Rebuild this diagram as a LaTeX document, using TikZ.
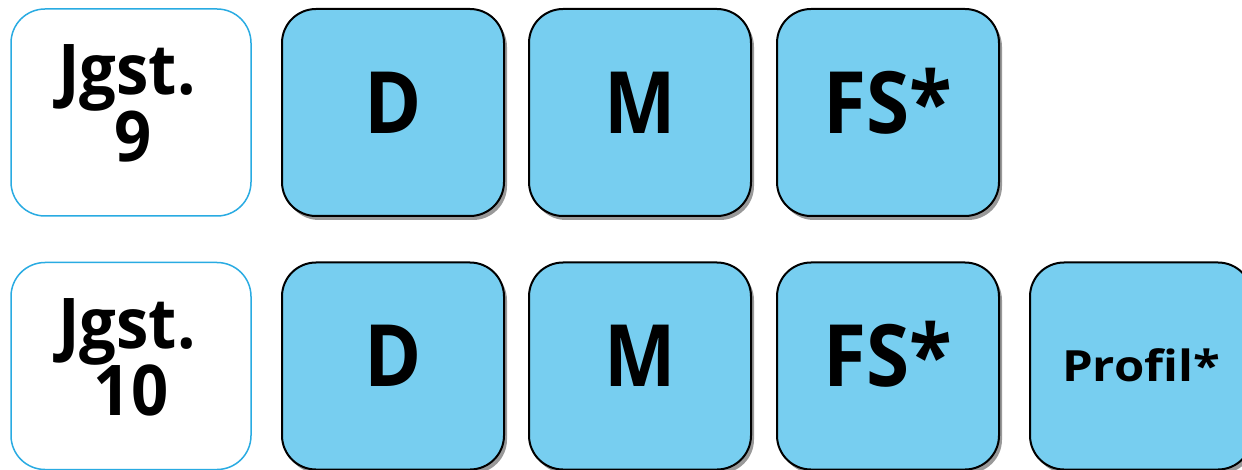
\documentclass[tikz,border=0pt]{standalone}
\usepackage{fontspec}
\usepackage{graphicx}
\setmainfont{Open Sans}
\usetikzlibrary{shadows}
\definecolor{boxblue}{HTML}{77CEF0}
\definecolor{jgstline}{HTML}{29ABE2}
\newcommand\sqz[2]{\scalebox{#1}[1]{#2}}
\tikzset{
  subj/.style={draw=black, line width=2pt, fill=boxblue, rounded corners=34pt,
    minimum width=222pt, minimum height=207pt, inner sep=0pt,
    text height=61.4pt, text depth=20pt,
    drop shadow={shadow xshift=3pt, shadow yshift=-4pt, fill=black!40, opacity=1},
    font=\fontsize{86}{86}\selectfont\bfseries},
  jgst/.style={draw=jgstline, line width=1.5pt, fill=white, rounded corners=34pt,
    minimum width=240pt, minimum height=207pt, inner sep=0pt},
  jgsttext/.style={inner sep=0pt, anchor=base,
    font=\fontsize{70}{70}\selectfont\bfseries}
}
\begin{document}
\begin{tikzpicture}
\useasboundingbox (0pt,0pt) rectangle (1242pt,-470pt);
\begin{scope}
\clip (0pt,0pt) rectangle (1242pt,-470pt);
\node[jgst] (j9) at (131pt,-112.5pt) {};
\node[jgsttext] (j9a) at (127pt,-95pt) {\sqz{0.93}{Jgst.}};
\node[jgsttext] (j9b) at (133pt,-162pt) {\sqz{0.93}{9}};
\node[subj] (d9) at (393pt,-112.5pt) {\sqz{0.9}{D}};
\node[subj] (m9) at (640pt,-112.5pt) {\sqz{0.88}{M}};
\node[subj] (f9) at (888pt,-112.5pt) {\sqz{0.91}{FS*}};
\node[jgst] (j10) at (131pt,-366pt) {};
\node[jgsttext] (j10a) at (127pt,-348.5pt) {\sqz{0.93}{Jgst.}};
\node[jgsttext] (j10b) at (131pt,-415.5pt) {\sqz{0.93}{10}};
\node[subj] (d10) at (393pt,-366pt) {\sqz{0.9}{D}};
\node[subj] (m10) at (640pt,-366pt) {\sqz{0.88}{M}};
\node[subj] (f10) at (888pt,-366pt) {\sqz{0.91}{FS*}};
\node[subj, font=\fontsize{43}{43}\selectfont\bfseries, text height=30.7pt, text depth=0pt] (p10) at (1141pt,-366pt) {\sqz{1.14}{Profil*}};
\end{scope}
\end{tikzpicture}
\end{document}
